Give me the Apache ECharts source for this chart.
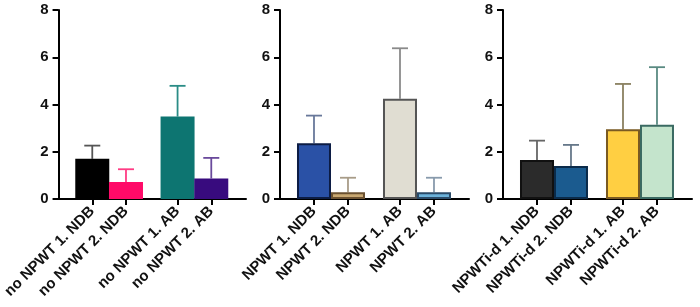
<!DOCTYPE html>
<html>
<head>
<meta charset="utf-8">
<script src="https://cdn.jsdelivr.net/npm/echarts@6/dist/echarts.min.js"></script>
<style>
html,body{margin:0;padding:0;background:#fff;}
#chart{width:700px;height:307px;}
</style>
</head>
<body>
<div id="chart"></div>
<script>
// ---- data ----
const labels1 = ['no NPWT 1. NDB', 'no NPWT 2. NDB', 'no NPWT 1. AB', 'no NPWT 2. AB'];
const means1 = [1.70, 0.72, 3.49, 0.87];
const sd1 = [0.56, 0.54, 1.30, 0.87];

const labels2 = ['NPWT 1. NDB', 'NPWT 2. NDB', 'NPWT 1. AB', 'NPWT 2. AB'];
const means2 = [2.36, 0.29, 4.24, 0.29];
const sd2 = [1.17, 0.61, 2.14, 0.61];

const labels3 = ['NPWTi-d 1. NDB', 'NPWTi-d 2. NDB', 'NPWTi-d 1. AB', 'NPWTi-d 2. AB'];
const means3 = [1.65, 1.40, 2.95, 3.14];
const sd3 = [0.82, 0.89, 1.92, 2.44];

const yTicks = [0, 2, 4, 6, 8];

// ---- styles ----
const fills = [
  ['#000000', '#ff0a68', '#0d7571', '#380b7e'],
  ['#2a51a6', '#c9a872', '#e0ddd2', '#6cb2da'],
  ['#2b2b2b', '#1b5b8f', '#ffcf42', '#c4e4cc']
];
const borders = [
  ['#000000', '#ff0a68', '#0d7571', '#380b7e'],
  ['#0c1c44', '#6a5030', '#555555', '#2a4a68'],
  ['#111111', '#0b2b4a', '#7a5a22', '#3a6a62']
];
const errColors = [
  ['#555555', '#ff3c84', '#2a8c86', '#6a4a9c'],
  ['#68789a', '#a89c88', '#8a8a8a', '#889aac'],
  ['#666666', '#66788a', '#8a8060', '#5a8a82']
];
const borderW = [0, 2, 2];

const panels = [
  {labels: labels1, means: means1, sd: sd1, left: 57},
  {labels: labels2, means: means2, sd: sd2, left: 280},
  {labels: labels3, means: means3, sd: sd3, left: 503}
];

const GROUP_GAP = 0.53;
const XMAX = 5.56;
function pos(i) { return i + 1 + (i >= 2 ? GROUP_GAP : 0); }

const grids = [], xAxes = [], yAxes = [], series = [];
const font = '"Liberation Sans", Arial, sans-serif';

panels.forEach((p, k) => {
  grids.push({left: p.left, top: 10, width: 189, height: 189});
  const positions = p.labels.map((_, i) => pos(i));
  xAxes.push({
    type: 'value', gridIndex: k, min: 0, max: XMAX,
    splitLine: {show: false},
    axisLine: {show: true, onZero: false, lineStyle: {color: '#000', width: 2}},
    axisTick: {show: true, customValues: positions, length: 6, lineStyle: {color: '#000', width: 2}},
    axisLabel: {
      show: true, customValues: positions, rotate: 45, margin: 10,
      fontFamily: font, fontWeight: 'bold', fontSize: 15, color: '#111',
      formatter: function (v) {
        let best = 0, d = 1e9;
        positions.forEach((q, i) => { if (Math.abs(q - v) < d) { d = Math.abs(q - v); best = i; } });
        return p.labels[best];
      }
    }
  });
  yAxes.push({
    type: 'value', gridIndex: k, min: 0, max: 8, interval: 2,
    splitLine: {show: false},
    axisLine: {show: true, lineStyle: {color: '#000', width: 2}},
    axisTick: {show: true, length: 6, lineStyle: {color: '#000', width: 2}},
    axisLabel: {
      margin: 10, fontFamily: font, fontWeight: 'bold', fontSize: 15, color: '#111',
      formatter: v => yTicks.includes(v) ? String(v) : ''
    }
  });
  series.push({
    type: 'custom', xAxisIndex: k, yAxisIndex: k, z: 1,
    data: p.means.map((m, i) => [positions[i], m, m + p.sd[i], i]),
    renderItem: function (params, api) {
      const x = api.value(0), m = api.value(1), up = api.value(2), i = api.value(3);
      const b = api.coord([x, m]), t = api.coord([x, up]);
      const c = errColors[k][i];
      return {
        type: 'group',
        children: [
          {type: 'line', shape: {x1: b[0], y1: b[1], x2: t[0], y2: t[1]}, style: {stroke: c, lineWidth: 1.8}},
          {type: 'line', shape: {x1: t[0] - 8, y1: t[1], x2: t[0] + 8, y2: t[1]}, style: {stroke: c, lineWidth: 1.8}}
        ]
      };
    }
  });
  series.push({
    type: 'bar', xAxisIndex: k, yAxisIndex: k, z: 2, barWidth: 34,
    data: p.means.map((m, i) => ({
      value: [positions[i], m],
      itemStyle: {color: fills[k][i], borderColor: borders[k][i], borderWidth: borderW[k]}
    }))
  });
});

const chart = echarts.init(document.getElementById('chart'), null, {renderer: 'canvas'});
chart.setOption({
  animation: false,
  backgroundColor: '#fff',
  grid: grids, xAxis: xAxes, yAxis: yAxes, series: series
});
</script>
</body>
</html>
